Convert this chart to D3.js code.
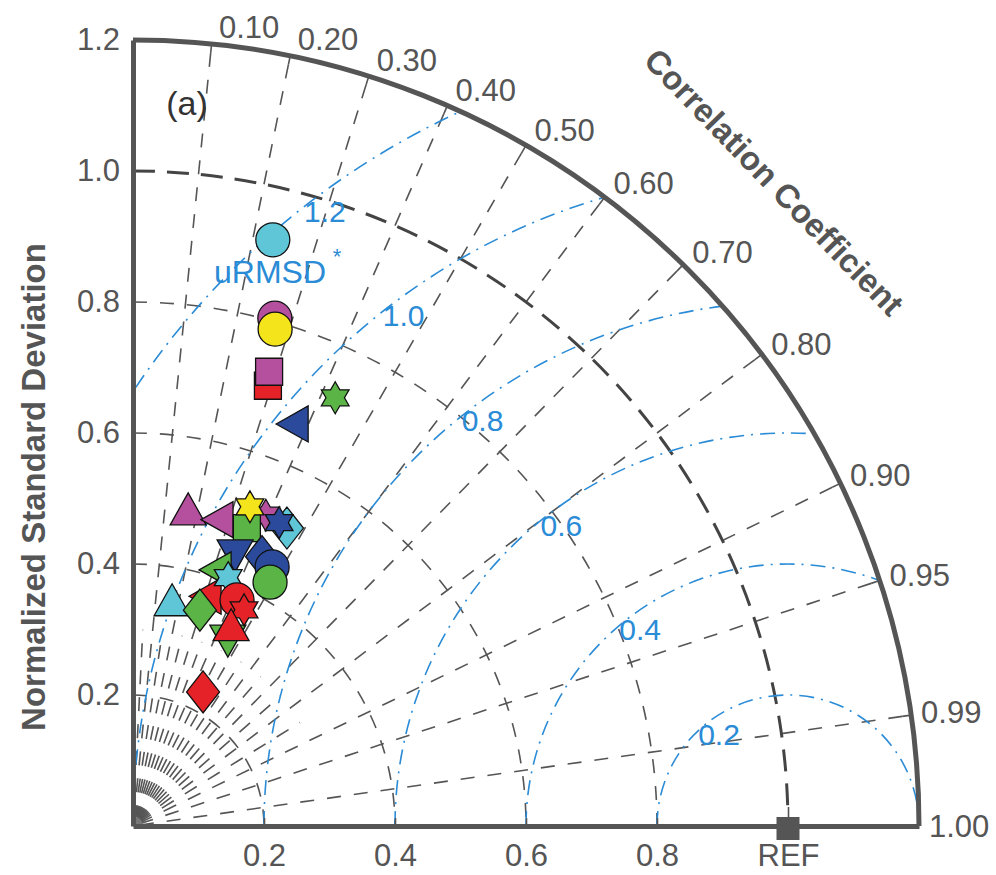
<!DOCTYPE html>
<html>
<head>
<meta charset="utf-8">
<script src="https://cdn.jsdelivr.net/npm/d3@7"></script>
<style>
body { margin: 0; background: #fff; }
text { font-family: "Liberation Sans", Arial, Helvetica, sans-serif; }
</style>
</head>
<body>
<div id="chart-area"></div>
<script>
// values (normalized std dev + correlation per marker, in draw order)
let groups = ["D1", "D2", "D3", "D4", "D5", "D6"];
let experiments = ["E1", "E2", "E3", "E4", "E5", "E6", "E7"];
let pointGroup = ["D1","D2","D3","D4","D2","D6","D5","D2","D2","D2","D6","D3","D1","D5",
                  "D5","D5","D5","D6","D6","D4","D1","D1","D6","D4","D6","D4","D4","D4"];
let pointExp   = ["E1","E1","E1","E2","E2","E7","E4","E3","E4","E7","E2","E7","E6","E7",
                  "E6","E5","E1","E1","E4","E4","E7","E3","E6","E1","E5","E7","E3","E6"];
let stdValues  = [0.920,0.805,0.789,0.703,0.724,0.723,0.663,0.484,0.487,0.516,0.487,0.519,0.512,0.514,
                  0.456,0.448,0.449,0.427,0.413,0.370,0.406,0.343,0.345,0.380,0.324,0.371,0.335,0.231];
let corrValues = [0.232,0.269,0.275,0.293,0.287,0.427,0.378,0.174,0.279,0.393,0.357,0.344,0.459,0.434,
                  0.432,0.348,0.473,0.490,0.322,0.318,0.358,0.174,0.296,0.418,0.447,0.457,0.447,0.463];

let corrTicks = [0.1, 0.2, 0.3, 0.4, 0.5, 0.6, 0.7, 0.8, 0.9, 0.95, 0.99, 1.0];
let corrMinor = [0.05, 0.15, 0.25, 0.35, 0.45, 0.55, 0.65, 0.75, 0.85];
let stdArcs = [0.2, 0.4, 0.6, 0.8, 1.0];
let stdTicks = [0.2, 0.4, 0.6, 0.8, 1.0, 1.2];
let xTicks = [0.2, 0.4, 0.6, 0.8, 1.0];
let rmsTicks = [0.2, 0.4, 0.6, 0.8, 1.0, 1.2];
let refStd = 1.0;
let maxStd = 1.2;

let W = 996, H = 875;
let origin = {x: 133, y: 826};
let R = 786;

let groupColor = d3.scaleOrdinal(groups, ["#5ec6d6", "#b5509e", "#f4e41c", "#e52227", "#2b4a9c", "#5bb446"]);
let expShape = d3.scaleOrdinal(experiments, ["circle", "square", "up", "left", "down", "diamond", "hex"]);

let svg = d3.select('#chart-area')
    .append('svg')
    .attr('width', W)
    .attr('height', H);

let g = svg.append('g')
    .attr('transform', 'translate(' + origin.x + ',' + origin.y + ')');

let x = d3.scaleLinear().domain([0, maxStd]).range([0, R]);
let y = d3.scaleLinear().domain([0, maxStd]).range([0, -R]);

let grey = "#555";
let blue = "#2a8bd6";

// clip to the quarter disc
svg.append('defs').append('clipPath')
    .attr('id', 'quarter')
    .append('path')
    .attr('d', function() {
        let p = d3.path();
        p.moveTo(0, 0);
        p.lineTo(0, -R);
        p.arc(0, 0, R, -Math.PI / 2, 0);
        p.closePath();
        return p.toString();
    });

let grid = g.append('g').attr('clip-path', 'url(#quarter)');

// radial correlation lines
function ray(c, rEnd) {
    let a = Math.acos(c);
    return [[0, 0], [x(rEnd * Math.cos(a)), y(rEnd * Math.sin(a))]];
}
grid.selectAll('.minor-ray')
    .data(corrMinor)
    .enter().append('path')
    .attr('d', function(c) { return d3.line()(ray(c, 0.3)); })
    .attr('stroke', grey).attr('stroke-width', 1.6)
    .attr('stroke-dasharray', '14,13').attr('stroke-dashoffset', -7)
    .attr('fill', 'none');

grid.selectAll('.major-ray')
    .data(corrTicks.filter(function(c) { return c < 1; }))
    .enter().append('path')
    .attr('d', function(c) { return d3.line()(ray(c, maxStd)); })
    .attr('stroke', grey).attr('stroke-width', 1.6)
    .attr('stroke-dasharray', '14,13').attr('stroke-dashoffset', -7)
    .attr('fill', 'none');

// std dev arcs
grid.selectAll('.std-arc')
    .data(stdArcs)
    .enter().append('path')
    .attr('d', function(s) {
        let p = d3.path();
        p.moveTo(0, y(s));
        p.arc(0, 0, x(s), -Math.PI / 2, 0);
        return p.toString();
    })
    .attr('stroke', function(s) { return s === refStd ? '#444' : grey; })
    .attr('stroke-width', function(s) { return s === refStd ? 3 : 1.6; })
    .attr('stroke-dasharray', function(s) { return s === refStd ? '22,12' : '14,13'; })
    .attr('fill', 'none');

// uRMSD circles around REF
grid.selectAll('.rms-arc')
    .data(rmsTicks)
    .enter().append('path')
    .attr('d', function(r) {
        let p = d3.path();
        p.moveTo(x(refStd - r), 0);
        p.arc(x(refStd), 0, x(r), -Math.PI, 0);
        return p.toString();
    })
    .attr('stroke', blue).attr('stroke-width', 1.6)
    .attr('stroke-dasharray', '15,7,2,7')
    .attr('fill', 'none');

// origin blob
g.append('path')
    .attr('d', function() {
        let p = d3.path();
        p.moveTo(0, 0); p.lineTo(0, -10); p.arc(0, 0, 10, -Math.PI / 2, 0); p.closePath();
        return p.toString();
    })
    .attr('fill', '#777');

// uRMSD labels
let labAng = 127 * Math.PI / 180;
g.selectAll('.rms-label')
    .data(rmsTicks)
    .enter().append('text')
    .attr('x', function(r) { return x(refStd + (r - 0.025) * Math.cos(labAng)); })
    .attr('y', function(r) { return y((r - 0.025) * Math.sin(labAng)); })
    .attr('text-anchor', 'middle')
    .attr('dominant-baseline', 'central')
    .attr('font-size', '30px')
    .attr('fill', blue)
    .text(function(r) { return r.toFixed(1); });

g.append('text')
    .attr('x', 270 - origin.x).attr('y', 272 - origin.y)
    .attr('text-anchor', 'middle').attr('dominant-baseline', 'central')
    .attr('font-size', '32px').attr('fill', blue)
    .text('uRMSD');
g.append('text')
    .attr('x', 337 - origin.x).attr('y', 256 - origin.y)
    .attr('text-anchor', 'middle').attr('dominant-baseline', 'central')
    .attr('font-size', '22px').attr('fill', blue)
    .text('*');

// outer arc
g.append('path')
    .attr('d', function() {
        let p = d3.path();
        p.moveTo(0, -R);
        p.arc(0, 0, R, -Math.PI / 2, 0);
        return p.toString();
    })
    .attr('stroke', grey).attr('stroke-width', 5).attr('fill', 'none');

// ticks on the outer arc
g.selectAll('.corr-tick')
    .data(corrTicks.filter(function(c) { return c < 1; }))
    .enter().append('path')
    .attr('d', function(c) {
        let a = Math.acos(c);
        return d3.line()([[(R - 9) * Math.cos(a), -(R - 9) * Math.sin(a)], [R * Math.cos(a), -R * Math.sin(a)]]);
    })
    .attr('stroke', grey).attr('stroke-width', 1.6);

// correlation labels
g.selectAll('.corr-label')
    .data(corrTicks)
    .enter().append('text')
    .attr('x', function(c) { return R * c + 7 + 3 * c; })
    .attr('y', function(c) { let s = Math.sqrt(1 - c * c); return -R * s - 17 * s; })
    .attr('dominant-baseline', 'central')
    .attr('font-size', '31px')
    .attr('fill', grey)
    .text(function(c) { return c.toFixed(2); });

// x axis
let xAxisCall = d3.axisBottom(x)
    .tickValues(xTicks)
    .tickSizeInner(-8)
    .tickSizeOuter(0)
    .tickPadding(18)
    .tickFormat(function(d) { return d === refStd ? 'REF' : d.toFixed(1); });
let xAxis = g.append('g').call(xAxisCall);
xAxis.select('.domain').attr('stroke', grey).attr('stroke-width', 5);
xAxis.selectAll('.tick line')
    .attr('stroke', grey).attr('stroke-width', 1.6)
    .attr('y2', function(d) { return d === refStd ? -19 : -8; });
xAxis.selectAll('text').attr('font-size', '31px').attr('fill', grey).attr('font-family', null);

// y axis
let yAxisCall = d3.axisLeft(y)
    .tickValues(stdTicks)
    .tickSize(0)
    .tickPadding(13)
    .tickFormat(d3.format('.1f'));
let yAxis = g.append('g').call(yAxisCall);
yAxis.select('.domain').attr('stroke', grey).attr('stroke-width', 5);
yAxis.selectAll('text').attr('font-size', '31px').attr('fill', grey).attr('font-family', null);

// REF marker
g.append('rect')
    .attr('x', x(refStd) - 11.5).attr('y', -9)
    .attr('width', 23).attr('height', 23)
    .attr('fill', grey);

// markers
function shapePath(kind) {
    if (kind === 'circle') return d3.symbol(d3.symbolCircle, Math.PI * 17 * 17)();
    if (kind === 'square') return d3.symbol(d3.symbolSquare, 27 * 27)();
    let pts;
    if (kind === 'up') pts = [[0, -21], [18, 11], [-18, 11]];
    if (kind === 'down') pts = [[0, 21], [18, -11], [-18, -11]];
    if (kind === 'left') pts = [[-21, 0], [11, -18], [11, 18]];
    if (kind === 'diamond') pts = [[0, -21], [16.5, 0], [0, 21], [-16.5, 0]];
    if (kind === 'hex') {
        pts = d3.range(12).map(function(i) {
            let a = -Math.PI / 2 + i * Math.PI / 6;
            let r = i % 2 === 0 ? 16 : 16 / Math.sqrt(3);
            return [r * Math.cos(a), r * Math.sin(a)];
        });
    }
    return d3.line()(pts) + 'Z';
}

let points = stdValues.map(function(s, i) {
    return {std: s, corr: corrValues[i], group: pointGroup[i], exp: pointExp[i]};
});

g.selectAll('.marker')
    .data(points)
    .enter().append('path')
    .attr('transform', function(d) {
        let a = Math.acos(d.corr);
        return 'translate(' + x(d.std * Math.cos(a)) + ',' + y(d.std * Math.sin(a)) + ')';
    })
    .attr('d', function(d) { return shapePath(expShape(d.exp)); })
    .attr('fill', function(d) { return groupColor(d.group); })
    .attr('stroke', '#111')
    .attr('stroke-width', 1.3);

// titles
svg.append('text')
    .attr('transform', 'translate(33,487) rotate(-90)')
    .attr('text-anchor', 'middle').attr('dominant-baseline', 'central')
    .attr('font-size', '33px').attr('font-weight', 'bold').attr('fill', grey)
    .text('Normalized Standard Deviation');

svg.append('text')
    .attr('transform', 'translate(774,182) rotate(46)')
    .attr('text-anchor', 'middle').attr('dominant-baseline', 'central')
    .attr('font-size', '33px').attr('font-weight', 'bold').attr('fill', grey)
    .text('Correlation Coefficient');

svg.append('text')
    .attr('x', 187).attr('y', 103)
    .attr('text-anchor', 'middle').attr('dominant-baseline', 'central')
    .attr('font-size', '34px').attr('fill', '#333')
    .text('(a)');
</script>
</body>
</html>
